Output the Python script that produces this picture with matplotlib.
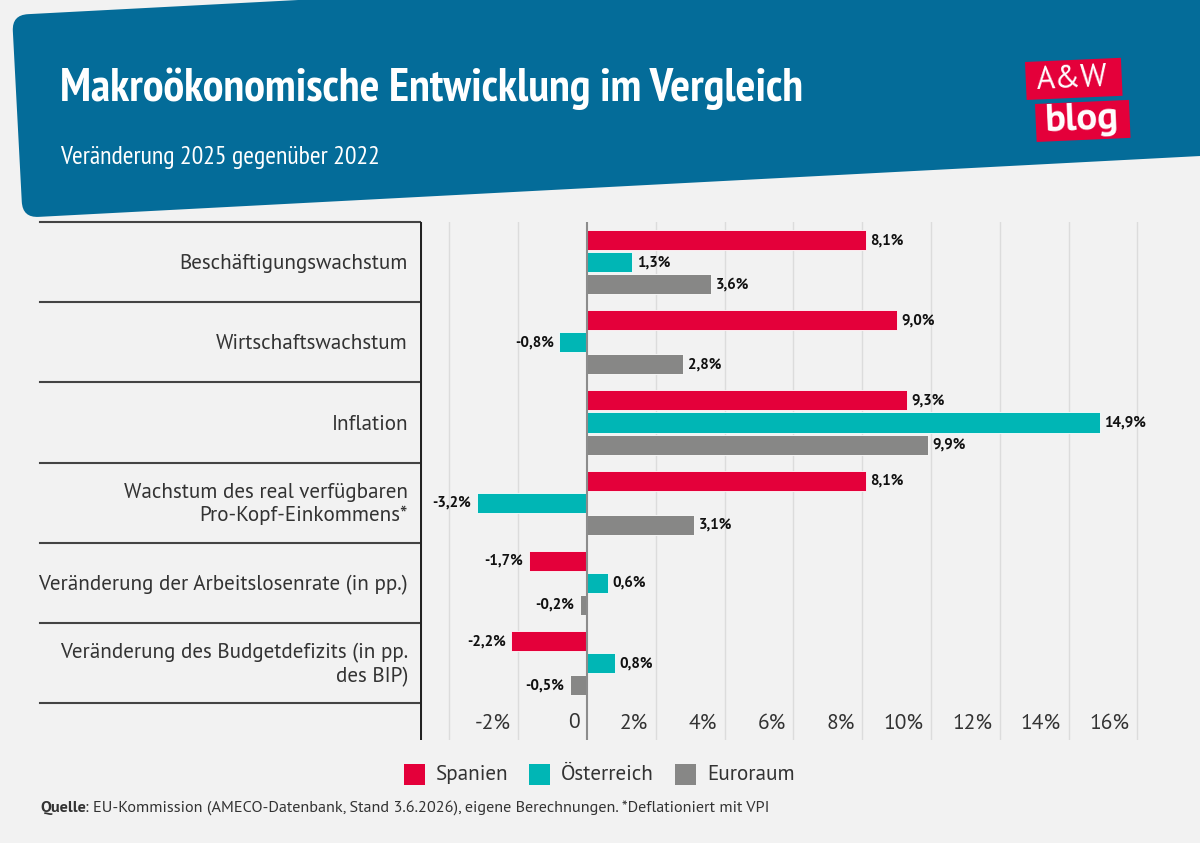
import matplotlib
matplotlib.use('Agg')
import matplotlib.pyplot as plt
import numpy as np
from matplotlib.patches import FancyBboxPatch, Rectangle
from matplotlib.transforms import Affine2D, blended_transform_factory

# --- data ---------------------------------------------------------------
categories = [
    'Beschäftigungswachstum',
    'Wirtschaftswachstum',
    'Inflation',
    'Wachstum des real verfügbaren\nPro-Kopf-Einkommens*',
    'Veränderung der Arbeitslosenrate (in pp.)',
    'Veränderung des Budgetdefizits (in pp.\ndes BIP)',
]
series_names = ['Spanien', 'Österreich', 'Euroraum']
spanien = [8.1, 9.0, 9.3, 8.1, -1.7, -2.2]
oesterreich = [1.3, -0.8, 14.9, -3.2, 0.6, 0.8]
euroraum = [3.6, 2.8, 9.9, 3.1, -0.2, -0.5]
tick_values = [-2, 0, 2, 4, 6, 8, 10, 12, 14, 16]
grid_values = [-4, -2, 2, 4, 6, 8, 10, 12, 14, 16]

colors = ['#E4003A', '#00B6B5', '#878786']
BG = '#F2F2F2'
BLUE = '#046C99'
TXT = '#333333'
NARROW = ['PT Sans Narrow', 'Roboto Condensed', 'DejaVu Sans']
REGULAR = ['PT Sans', 'Roboto', 'DejaVu Sans']
plt.rcParams['font.family'] = REGULAR

W, H = 1200, 843
fig = plt.figure(figsize=(W / 100, H / 100), dpi=100, facecolor=BG)

# background axes in pixel coordinates (y down)
bg = fig.add_axes([0, 0, 1, 1])
bg.set_xlim(0, W)
bg.set_ylim(H, 0)
bg.axis('off')
bg.set_facecolor(BG)

# header band: rotated rounded rectangle
band = FancyBboxPatch((12, 15), 1400, 203,
                      boxstyle='round,pad=0,rounding_size=16',
                      fc=BLUE, ec='none')
band.set_transform(Affine2D().rotate_deg_around(12, 15, -3) + bg.transData)
bg.add_patch(band)

bg.text(60, 101, 'Makroökonomische Entwicklung im Vergleich', color='white',
        fontsize=33.5, fontweight='bold', va='baseline', ha='left', family=NARROW)
bg.text(60, 164, 'Veränderung 2025 gegenüber 2022', color='white',
        fontsize=18.6, va='baseline', ha='left', family=NARROW)

# logo
for (x0, y0, w, h) in [(1025, 62, 96, 38), (1035, 104, 94, 38)]:
    box = Rectangle((x0, y0), w, h, fc='#E4003A', ec='none')
    box.set_transform(Affine2D().rotate_deg_around(x0, y0, -2.5) + bg.transData)
    bg.add_patch(box)
bg.text(1072, 79, 'A&W', color='white', fontsize=23, ha='center', va='center',
        rotation=2.5)
bg.text(1082, 120, 'blog', color='white', fontsize=28, fontweight='bold',
        ha='center', va='center', rotation=2.5)

# --- main chart -----------------------------------------------------------
zero_px, unit = 587, 34.4
left_px, right_px, top_px, bottom_px = 420, 1160, 222, 740
cat_h = 80.2

ax = fig.add_axes([left_px / W, 1 - bottom_px / H,
                   (right_px - left_px) / W, (bottom_px - top_px) / H])
ax.set_facecolor('none')
ax.set_xlim((left_px - zero_px) / unit, (right_px - zero_px) / unit)
ax.set_ylim((bottom_px - top_px) / cat_h, 0)
for s in ax.spines.values():
    s.set_visible(False)
ax.set_xticks([])
ax.set_yticks([])

for g in grid_values:
    ax.axvline(g, color='#DCDCDC', lw=1, zorder=0)
ax.axvline(0, color='#8C8C8C', lw=1.5, zorder=3)
ax.axvline(ax.get_xlim()[0], color='#222222', lw=2.2, zorder=3)

y = np.arange(len(categories)) + 0.5
offsets = [-0.275, 0.0, 0.275]
bar_h = 0.25
for vals, off, c in zip([spanien, oesterreich, euroraum], offsets, colors):
    ax.barh(y + off, vals, height=bar_h, color=c, edgecolor='#FFFFFF',
            linewidth=0.6, zorder=2)
    for yi, v in zip(y + off, vals):
        lab = f'{v:.1f}%'.replace('.', ',')
        ax.annotate(lab, (v, yi), xytext=(3.5 if v >= 0 else -4, 0),
                    textcoords='offset points', ha='left' if v >= 0 else 'right',
                    va='center', fontsize=10.8, fontweight='bold', color='#111111')

# x tick labels drawn inside the axes, right-aligned at gridlines
tick_y = (723 - top_px) / cat_h
for t in tick_values:
    lab = '0' if t == 0 else f'{t}%'
    ax.annotate(lab, (t, tick_y), xytext=(-5.5, 0), textcoords='offset points',
                ha='right', va='center', fontsize=15.5, color=TXT)

# category labels and separator lines on the left
tr = blended_transform_factory(bg.transData, ax.transData)
for i in range(len(categories) + 1):
    ax.plot([40, left_px], [i, i], transform=tr, color='#444444', lw=1.5,
            clip_on=False)
for i, cat in enumerate(categories):
    ax.text(408, i + 0.5 + 0.02, cat, transform=tr, ha='right', va='center',
            fontsize=15.1, color=TXT, linespacing=1.25)

# legend
lx = [404, 529, 675]
for x0, name, c in zip(lx, series_names, colors):
    bg.add_patch(Rectangle((x0, 764), 21, 21, fc=c, ec='none'))
    bg.text(x0 + 32, 774, name, ha='left', va='center', fontsize=15.2, color=TXT)

# footer
t1 = bg.text(40, 808, 'Quelle', ha='left', va='center', fontsize=11.7,
             fontweight='bold', color=TXT)
fig.canvas.draw()
bb = t1.get_window_extent()
bg.text(bb.x1 - 1, 808,
        ': EU-Kommission (AMECO-Datenbank, Stand 3.6.2026), eigene Berechnungen. '
        '*Deflationiert mit VPI', ha='left', va='center', fontsize=11.7, color=TXT)

fig.savefig('out.png', dpi=100, facecolor=BG)
